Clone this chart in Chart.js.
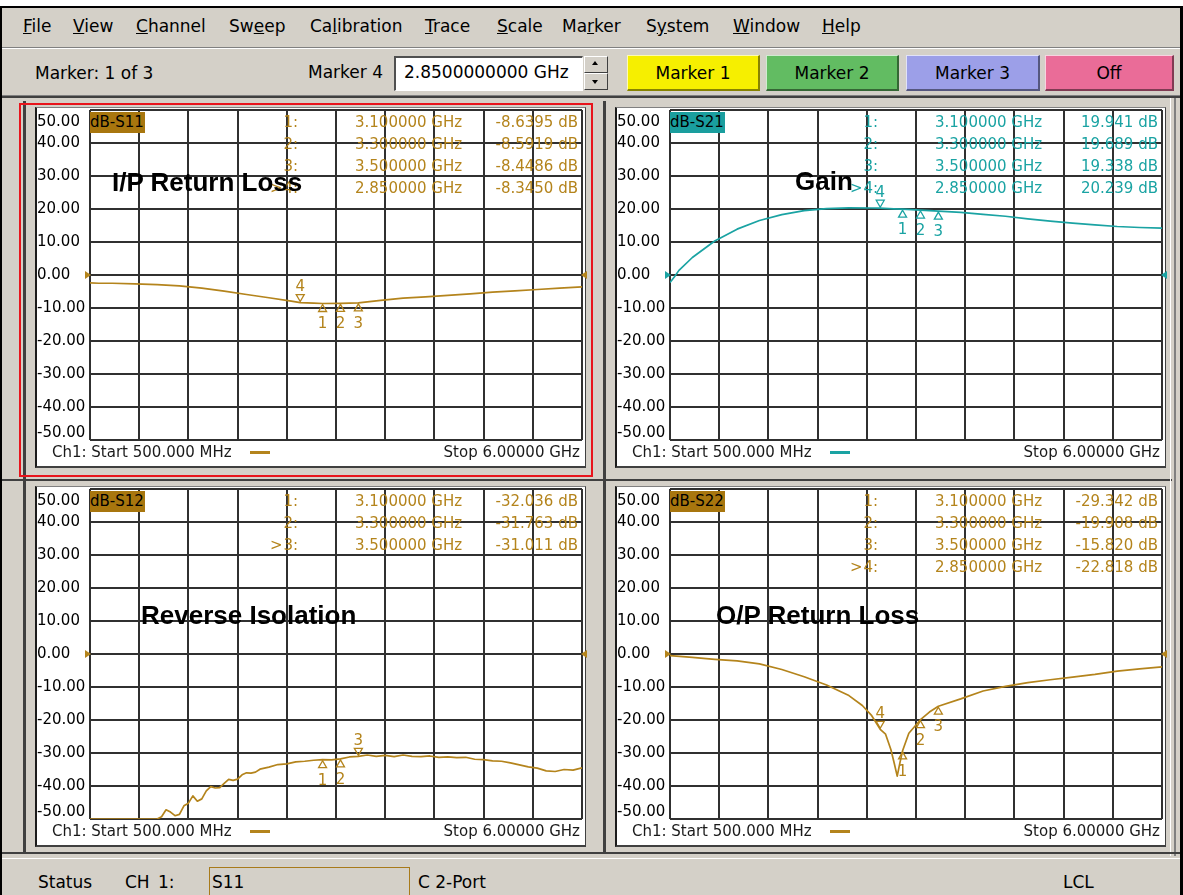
<!DOCTYPE html>
<html>
<head>
<meta charset="utf-8">
<title>S-parameter display</title>
<script src="https://cdn.jsdelivr.net/npm/chart.js@4.4.1/dist/chart.umd.min.js"></script>
<style>
  html, body { margin: 0; padding: 0; }
  body { width: 1183px; height: 895px; overflow: hidden; background: #fff; position: relative;
         font-family: "DejaVu Sans", sans-serif; color: #000; }
  .blk { position: absolute; }
  .menu { position: absolute; top: 16px; font-size: 17px; line-height: 20px; white-space: nowrap; }
  .tb { position: absolute; font-size: 17px; line-height: 20px; white-space: nowrap; }
  .btn { position: absolute; top: 55px; height: 36px; font-size: 17px; display: flex; align-items: center;
         justify-content: center; box-sizing: border-box;
         border-top: 1px solid rgba(255,255,255,0.7); border-left: 1px solid rgba(255,255,255,0.7);
         border-right: 2px solid rgba(0,0,0,0.45); border-bottom: 2px solid rgba(0,0,0,0.45); }
  .ro { position: absolute; font-size: 15px; line-height: 18px; white-space: nowrap; }
  .title { position: absolute; font-family: "Liberation Sans", Arial, sans-serif; font-weight: bold;
           font-size: 26px; line-height: 30px; white-space: nowrap; color: #000; }
  canvas { position: absolute; }
</style>
</head>
<body>
<!-- window frame -->
<div class="blk" style="left:0;top:6px;width:1183px;height:889px;background:#000"></div>
<div class="blk" style="left:2px;top:8px;width:1178px;height:887px;background:#d4d0c8"></div>

<!-- menu bar -->
<div class="menu" style="left:23px"><u>F</u>ile</div>
<div class="menu" style="left:73px"><u>V</u>iew</div>
<div class="menu" style="left:136px"><u>C</u>hannel</div>
<div class="menu" style="left:229px">Sw<u>e</u>ep</div>
<div class="menu" style="left:310px">Ca<u>l</u>ibration</div>
<div class="menu" style="left:425px"><u>T</u>race</div>
<div class="menu" style="left:497px"><u>S</u>cale</div>
<div class="menu" style="left:562px">Ma<u>r</u>ker</div>
<div class="menu" style="left:646px">S<u>y</u>stem</div>
<div class="menu" style="left:733px"><u>W</u>indow</div>
<div class="menu" style="left:822px"><u>H</u>elp</div>
<div class="blk" style="left:2px;top:47px;width:1178px;height:1px;background:#808080"></div>
<div class="blk" style="left:2px;top:48px;width:1178px;height:1px;background:#fff"></div>

<!-- toolbar -->
<div class="tb" style="left:35px;top:63px">Marker: 1 of 3</div>
<div class="tb" style="left:308px;top:62px">Marker 4</div>
<div class="blk" style="left:394px;top:56px;width:186px;height:32px;background:#fff;border-top:2px solid #505050;border-left:2px solid #505050;border-right:1px solid #fff;border-bottom:1px solid #fff"></div>
<div class="tb" style="left:404px;top:62px">2.8500000000 GHz</div>
<div class="blk" style="left:584px;top:56px;width:22px;height:15px;background:#d4d0c8;border:1px solid #fff;border-right-color:#404040;border-bottom-color:#404040"></div>
<div class="blk" style="left:584px;top:73px;width:22px;height:15px;background:#d4d0c8;border:1px solid #fff;border-right-color:#404040;border-bottom-color:#404040"></div>
<div class="blk" style="left:592px;top:61px;width:0;height:0;border-left:3px solid transparent;border-right:3px solid transparent;border-bottom:4px solid #000"></div>
<div class="blk" style="left:592px;top:80px;width:0;height:0;border-left:3px solid transparent;border-right:3px solid transparent;border-top:4px solid #000"></div>
<div class="btn" style="left:627px;width:133px;background:#f6ef00">Marker 1</div>
<div class="btn" style="left:766px;width:133px;background:#62bc62">Marker 2</div>
<div class="btn" style="left:906px;width:134px;background:#9c9fe8">Marker 3</div>
<div class="btn" style="left:1045px;width:129px;background:#ea6c98">Off</div>
<div class="blk" style="left:2px;top:95px;width:1178px;height:1px;background:#808080"></div>
<div class="blk" style="left:2px;top:96px;width:1178px;height:2px;background:#404040"></div>

<!-- panel separators -->
<div class="blk" style="left:23px;top:101px;width:3px;height:752px;background:#404040"></div>
<div class="blk" style="left:603px;top:101px;width:3px;height:752px;background:#404040"></div>
<div class="blk" style="left:2px;top:479px;width:1170px;height:2px;background:#404040"></div>
<div class="blk" style="left:1170px;top:98px;width:1px;height:758px;background:#fff"></div>
<div class="blk" style="left:1174px;top:98px;width:2px;height:758px;background:#808080"></div>
<div class="blk" style="left:2px;top:852px;width:1178px;height:2px;background:#404040"></div>
<div class="blk" style="left:2px;top:858px;width:1178px;height:1px;background:#fff"></div>

<!-- status bar -->
<div class="tb" style="left:38px;top:872px">Status</div>
<div class="tb" style="left:125px;top:872px;word-spacing:3px">CH 1:</div>
<div class="blk" style="left:209px;top:867px;width:199px;height:30px;border:1px solid #a87a1a"></div>
<div class="tb" style="left:212px;top:872px">S11</div>
<div class="tb" style="left:418px;top:872px">C 2-Port</div>
<div class="tb" style="left:1063px;top:872px">LCL</div>

<script>
// --- Sweep / axes ---
const X_MIN = 0.5;   // Start 500.000 MHz
const X_MAX = 6.0;   // Stop 6.00000 GHz
const X_GRID = [0.5, 1.05, 1.6, 2.15, 2.7, 3.25, 3.8, 4.35, 4.9, 5.45, 6.0];
const Y_TICKS = [-50, -40, -30, -20, -10, 0, 10, 20, 30, 40, 50];

// --- S11 (I/P Return Loss) ---
const S11_FREQ = [0.5, 0.6, 0.75, 1.0, 1.25, 1.5, 1.75, 2.0, 2.25, 2.5, 2.75, 2.85, 3.0, 3.1, 3.3, 3.5,
                  3.75, 4.0, 4.25, 4.5, 4.75, 5.0, 5.25, 5.5, 5.75, 6.0];
const S11_DB = [-2.4, -2.5, -2.5, -2.7, -2.9, -3.3, -4.0, -4.9, -5.9, -6.9, -7.9, -8.345, -8.55, -8.6395, -8.5919, -8.4486,
                -7.7, -7.0, -6.6, -6.2, -5.7, -5.2, -4.8, -4.4, -4.0, -3.6];
const S11_MKR_FREQ = [3.1, 3.3, 3.5, 2.85];
const S11_MKR_DB = [-8.6395, -8.5919, -8.4486, -8.3450];

// --- S21 (Gain) ---
const S21_FREQ = [0.5, 0.55, 0.6, 0.75, 1.0, 1.25, 1.5, 1.75, 2.0, 2.25, 2.5, 2.75, 2.85, 3.0, 3.1, 3.3, 3.5,
                  3.75, 4.0, 4.25, 4.5, 4.75, 5.0, 5.25, 5.5, 5.75, 6.0];
const S21_DB = [-2.3, -0.5, 1.4, 5.3, 10.3, 13.9, 16.5, 18.3, 19.5, 20.1, 20.35, 20.3, 20.239, 20.05, 19.941, 19.689, 19.338,
                19.0, 18.4, 17.8, 17.0, 16.3, 15.7, 15.2, 14.7, 14.4, 14.2];
const S21_MKR_FREQ = [3.1, 3.3, 3.5, 2.85];
const S21_MKR_DB = [19.941, 19.689, 19.338, 20.239];

// --- S12 (Reverse Isolation) ---
const S12_FREQ = [0.5, 0.6, 0.7, 0.8, 0.9, 1.0, 1.1, 1.2, 1.25, 1.3, 1.35, 1.4, 1.45, 1.5, 1.55, 1.6, 1.65, 1.7, 1.75,
                  1.8, 1.85, 1.9, 1.95, 2.0, 2.05, 2.1, 2.15, 2.2, 2.25, 2.3, 2.35, 2.4, 2.5, 2.6, 2.7, 2.8, 2.9,
                  3.0, 3.1, 3.2, 3.3, 3.4, 3.5, 3.6, 3.7, 3.8, 3.9, 4.0, 4.1, 4.2, 4.3, 4.4, 4.5, 4.6, 4.7,
                  4.8, 4.9, 5.0, 5.1, 5.2, 5.3, 5.4, 5.5, 5.6, 5.7, 5.8, 5.9, 6.0];
const S12_DB = [-50, -50, -50, -50, -50, -50, -50, -50, -50, -49.3, -47.2, -47.9, -49.0, -48.6, -46.0, -45.2, -43.0, -44.6, -43.9,
                -41.5, -40.2, -40.6, -40.5, -39.2, -38.0, -38.3, -37.9, -36.6, -36.0, -36.1, -35.8, -34.9, -34.3, -33.5, -33.3, -32.7, -32.5,
                -32.2, -32.036, -32.1, -31.763, -31.2, -31.011, -30.6, -31.0, -30.7, -31.1, -30.6, -31.0, -31.1, -30.9, -31.3, -31.2, -31.4, -31.3,
                -31.9, -32.0, -32.4, -32.5, -33.0, -33.6, -34.2, -34.6, -35.4, -35.6, -35.0, -35.2, -34.5];
const S12_MKR_FREQ = [3.1, 3.3, 3.5];
const S12_MKR_DB = [-32.036, -31.763, -31.011];

// --- S22 (O/P Return Loss) ---
const S22_FREQ = [0.5, 0.75, 1.0, 1.25, 1.5, 1.75, 2.0, 2.25, 2.5, 2.65, 2.75, 2.85, 2.91, 2.97, 3.01, 3.04, 3.07, 3.1,
                  3.17, 3.3, 3.4, 3.5, 3.75, 4.0, 4.25, 4.5, 4.75, 5.0, 5.25, 5.5, 5.75, 6.0];
const S22_DB = [-0.5, -1.0, -1.6, -2.1, -3.0, -4.7, -6.9, -9.4, -12.6, -15.6, -18.5, -22.818, -24.3, -29.0, -33.5, -37.0, -33.0, -29.342,
                -24.0, -19.908, -17.6, -15.82, -13.6, -11.2, -9.8, -8.7, -7.8, -7.0, -6.2, -5.2, -4.5, -3.9];
const S22_MKR_FREQ = [3.1, 3.3, 3.5, 2.85];
const S22_MKR_DB = [-29.342, -19.908, -15.820, -22.818];

const GOLD = '#b4841c';
const TEAL = '#1aa3a3';
const GRID = '#303030';

const panels = [
  { key: 's11', dx: 0, dy: 0, name: 'dB-S11', box: '#a8760e', color: GOLD, title: 'I/P Return Loss', titleX: 112, titleY: 167,
    freq: S11_FREQ, db: S11_DB, mkF: S11_MKR_FREQ, mkDb: S11_MKR_DB, dec: 4, active: 4, above: [false, false, false, true], selected: true },
  { key: 's21', dx: 580, dy: 0, name: 'dB-S21', box: '#1a9e9e', color: TEAL, title: 'Gain', titleX: 795, titleY: 166,
    freq: S21_FREQ, db: S21_DB, mkF: S21_MKR_FREQ, mkDb: S21_MKR_DB, dec: 3, active: 4, above: [false, false, false, true] },
  { key: 's12', dx: 0, dy: 379, name: 'dB-S12', box: '#a8760e', color: GOLD, title: 'Reverse Isolation', titleX: 141, titleY: 600,
    freq: S12_FREQ, db: S12_DB, mkF: S12_MKR_FREQ, mkDb: S12_MKR_DB, dec: 3, active: 3, above: [false, false, true] },
  { key: 's22', dx: 580, dy: 379, name: 'dB-S22', box: '#a8760e', color: GOLD, title: 'O/P Return Loss', titleX: 716, titleY: 600,
    freq: S22_FREQ, db: S22_DB, mkF: S22_MKR_FREQ, mkDb: S22_MKR_DB, dec: 3, active: 4, above: [false, false, false, true] },
];

function addDiv(cls, x, y, text, style) {
  const d = document.createElement('div');
  d.className = cls;
  d.style.left = x + 'px';
  d.style.top = y + 'px';
  if (text !== undefined && text !== null) d.textContent = text;
  Object.assign(d.style, style || {});
  document.body.appendChild(d);
  return d;
}

// right-aligned text ending at xRight
function addRight(cls, xRight, y, text, style) {
  const d = addDiv(cls, 0, y, text, style);
  d.style.left = '';
  d.style.right = (1183 - xRight) + 'px';
  return d;
}

// marker symbols, marker numbers and 0 dB reference arrows
function markerLayer(p) {
  return {
    id: 'markers_' + p.key,
    afterDatasetsDraw(chart) {
      const xs = chart.scales.x, ys = chart.scales.y, ctx = chart.ctx, area = chart.chartArea;
      ctx.save();
      ctx.fillStyle = p.color;
      ctx.strokeStyle = p.color;
      ctx.lineWidth = 1.3;
      const y0 = ys.getPixelForValue(0);
      ctx.beginPath();
      ctx.moveTo(area.left - 5, y0 - 4); ctx.lineTo(area.left + 1, y0); ctx.lineTo(area.left - 5, y0 + 4);
      ctx.closePath(); ctx.fill();
      ctx.beginPath();
      ctx.moveTo(area.right + 5, y0 - 4); ctx.lineTo(area.right - 1, y0); ctx.lineTo(area.right + 5, y0 + 4);
      ctx.closePath(); ctx.fill();

      ctx.font = '15px "DejaVu Sans"';
      ctx.textAlign = 'center';
      ctx.textBaseline = 'middle';
      p.mkF.forEach((f, i) => {
        const x = xs.getPixelForValue(f);
        const y = ys.getPixelForValue(p.mkDb[i]);
        const s = p.above[i] ? -1 : 1;
        ctx.beginPath();
        ctx.moveTo(x, y + s);
        ctx.lineTo(x - 4, y + 8 * s);
        ctx.lineTo(x + 4, y + 8 * s);
        ctx.closePath();
        ctx.stroke();
        ctx.fillText(String(i + 1), x, y + (s > 0 ? 21 : -15));
      });
      ctx.restore();
    }
  };
}

function tickLabel(v) {
  if (v === 50) return ['', '50.00'];
  if (v === -50) return ['-50.00', ''];
  return v.toFixed(2);
}

function buildPanel(p) {
  const dx = p.dx, dy = p.dy;

  if (p.selected) {
    addDiv('blk', 19 + dx, 103 + dy, null,
      { width: '570px', height: '370px', border: '2px solid #e8141c' });
  }
  // white trace window
  addDiv('blk', 35 + dx, 107 + dy, null, {
    width: '548px', height: '358px', background: '#fff',
    borderLeft: '2px solid #1c1c1c', borderTop: '1px solid #808080',
    borderRight: '1px solid #404040', borderBottom: '2px solid #404040'
  });

  const cv = document.createElement('canvas');
  cv.width = 551; cv.height = 358;
  cv.style.left = (37 + dx) + 'px';
  cv.style.top = (108 + dy) + 'px';
  cv.style.width = '551px'; cv.style.height = '358px';
  document.body.appendChild(cv);

  new Chart(cv, {
    type: 'line',
    data: {
      datasets: [{
        data: p.freq.map((f, i) => ({ x: f, y: p.db[i] })),
        borderColor: p.color,
        borderWidth: 1.7,
        pointRadius: 0,
        tension: 0,
        borderJoinStyle: 'round'
      }]
    },
    options: {
      responsive: false,
      animation: false,
      events: [],
      layout: { padding: { left: 0, right: 6, top: 2, bottom: 26 } },
      plugins: { legend: { display: false }, tooltip: { enabled: false } },
      scales: {
        x: {
          type: 'linear', min: X_MIN, max: X_MAX,
          afterBuildTicks: s => { s.ticks = X_GRID.map(v => ({ value: v })); },
          ticks: { display: false, autoSkip: false },
          grid: { color: GRID, lineWidth: 2, drawTicks: false },
          border: { display: false }
        },
        y: {
          type: 'linear', min: -50, max: 50,
          afterBuildTicks: s => { s.ticks = Y_TICKS.map(v => ({ value: v })); },
          afterFit: s => { s.width = 53; s.paddingTop = 0; s.paddingBottom = 0; },
          ticks: {
            autoSkip: false,
            crossAlign: 'far',
            color: '#000',
            padding: 0,
            callback: v => tickLabel(v),
            font: c => {
              const v = c.tick ? c.tick.value : 0;
              return { family: 'DejaVu Sans', size: 15, lineHeight: v === 50 ? 1.6 : (v === -50 ? 0.95 : 1.2) };
            }
          },
          grid: { color: GRID, lineWidth: 2, drawTicks: false },
          border: { display: false }
        }
      }
    },
    plugins: [markerLayer(p)]
  });

  // trace name tag
  addDiv('ro', 90 + dx, 112 + dy, p.name,
    { background: p.box, width: '55px', height: '21px', lineHeight: '21px' });

  // marker readout table
  p.mkF.forEach((f, i) => {
    const yc = 122 + dy + 22 * i;
    const col = { color: p.color };
    if (p.active === i + 1) addDiv('ro', 270 + dx, yc - 9, '>', col);
    addRight('ro', 298 + dx, yc - 9, (i + 1) + ':', col);
    addDiv('ro', 355 + dx, yc - 9, f.toFixed(6) + ' GHz', col);
    addRight('ro', 578 + dx, yc - 9, p.mkDb[i].toFixed(p.dec) + ' dB', col);
  });

  // sweep annotation
  addDiv('ro', 52 + dx, 443 + dy, 'Ch1: Start  500.000 MHz', { color: '#1a1a1a' });
  addDiv('blk', 250 + dx, 451 + dy, null, { width: '20px', height: '3px', background: p.color });
  addRight('ro', 580 + dx, 443 + dy, 'Stop  6.00000 GHz', { color: '#1a1a1a' });
}

panels.forEach(buildPanel);

// panel titles on top
panels.forEach(p => addDiv('title', p.titleX, p.titleY, p.title));
</script>
</body>
</html>
